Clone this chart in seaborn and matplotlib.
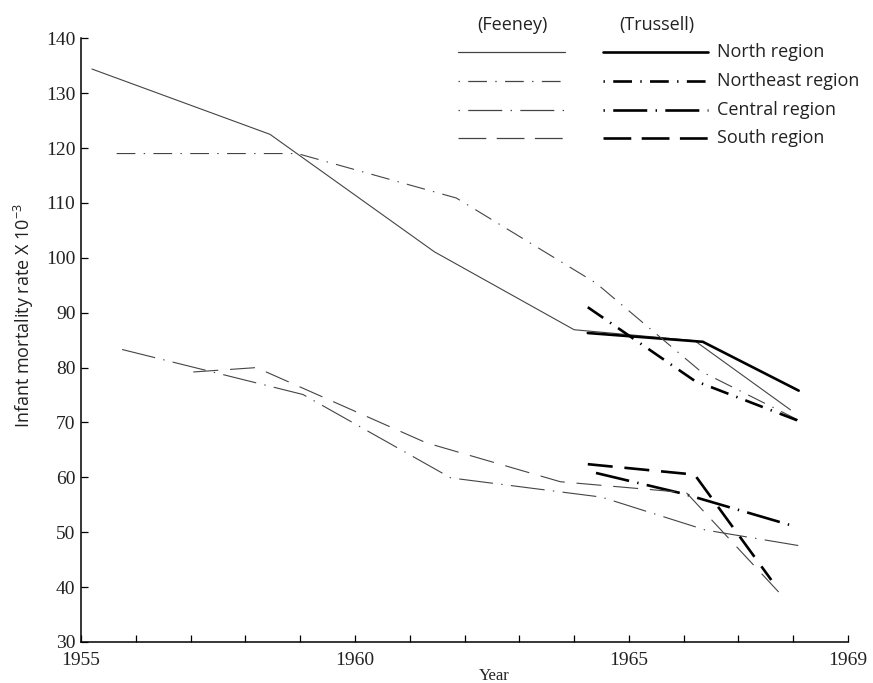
import matplotlib
matplotlib.use("Agg")
import matplotlib.pyplot as plt
from matplotlib.lines import Line2D
import seaborn as sns

# --- data (year, infant mortality rate x 10^-3) ---
# Feeney estimates (thin lines)
north_feeney_year = [1955.2, 1958.45, 1961.45, 1964.0, 1966.2, 1967.95]
north_feeney = [134.4, 122.5, 101.1, 86.9, 84.9, 72.3]
northeast_feeney_year = [1955.65, 1958.95, 1961.85, 1964.4, 1966.3, 1968.2]
northeast_feeney = [119.0, 119.0, 110.9, 95.4, 79.4, 69.9]
central_feeney_year = [1955.75, 1959.05, 1961.75, 1964.5, 1966.4, 1968.2]
central_feeney = [83.3, 75.1, 59.9, 56.4, 50.4, 47.4]
south_feeney_year = [1957.05, 1958.2, 1961.3, 1963.75, 1966.05, 1967.8]
south_feeney = [79.2, 80.0, 66.3, 59.2, 57.2, 38.4]

# Trussell estimates (thick lines)
north_trussell_year = [1964.25, 1966.35, 1968.1]
north_trussell = [86.3, 84.7, 75.8]
northeast_trussell_year = [1964.25, 1966.2, 1968.2]
northeast_trussell = [91.0, 77.6, 69.9]
central_trussell_year = [1964.4, 1966.0, 1968.05]
central_trussell = [60.8, 57.0, 51.0]
south_trussell_year = [1964.25, 1966.2, 1967.6]
south_trussell = [62.4, 60.5, 41.3]

regions = ["North region", "Northeast region", "Central region", "South region"]
year_ticks = list(range(1955, 1970))
year_labels = ["1955", "1960", "1965", "1969"]
rate_ticks = list(range(30, 150, 10))

# dash patterns (points), one per region
dash_styles = {
    "North region": "-",
    "Northeast region": (0, (13.5, 6.0, 1.0, 6.0)),
    "Central region": (0, (24.5, 6.0, 1.0, 6.0)),
    "South region": (0, (18.0, 8.5)),
}
# legend starts with the dot for the dot-dash patterns
legend_styles = {
    "North region": "-",
    "Northeast region": (19.5, (13.5, 6.0, 1.0, 6.0)),
    "Central region": (30.5, (24.5, 6.0, 1.0, 6.0)),
    "South region": (0, (20.0, 7.5)),
}

feeney = {
    "North region": (north_feeney_year, north_feeney),
    "Northeast region": (northeast_feeney_year, northeast_feeney),
    "Central region": (central_feeney_year, central_feeney),
    "South region": (south_feeney_year, south_feeney),
}
trussell = {
    "North region": (north_trussell_year, north_trussell),
    "Northeast region": (northeast_trussell_year, northeast_trussell),
    "Central region": (central_trussell_year, central_trussell),
    "South region": (south_trussell_year, south_trussell),
}

sns.set_style("ticks")
plt.rcParams["lines.scale_dashes"] = False
plt.rcParams["mathtext.default"] = "regular"

W, H = 873, 683
fig = plt.figure(figsize=(W / 100, H / 100), dpi=100)
ax = fig.add_axes([81 / W, 1 - 642 / H, (848 - 81) / W, (642 - 38.3) / H])

thin_color = "#444444"
for region in regions:
    x, y = feeney[region]
    sns.lineplot(x=x, y=y, ax=ax, color=thin_color, linewidth=0.8,
                 linestyle=dash_styles[region], errorbar=None)
    x, y = trussell[region]
    sns.lineplot(x=x, y=y, ax=ax, color="black", linewidth=1.9,
                 linestyle=dash_styles[region], errorbar=None)

ax.set_xlim(1955, 1969)
ax.set_ylim(30, 140)
ax.set_xticks(year_ticks)
ax.set_xticklabels([str(t) if str(t) in year_labels else "" for t in year_ticks])
ax.set_yticks(rate_ticks)
ax.set_yticklabels([str(t) for t in rate_ticks])
sns.despine(ax=ax)
for side in ["left", "bottom"]:
    ax.spines[side].set_color("black")
    ax.spines[side].set_linewidth(1.1)

ax.tick_params(axis="both", direction="in", length=5, width=0.9, color="black")
ax.tick_params(axis="x", pad=7)
ax.tick_params(axis="y", pad=4)
for lab in ax.get_xticklabels() + ax.get_yticklabels():
    lab.set_family("Liberation Serif")
    lab.set_fontsize(14)
    lab.set_color("#222222")

ax.set_xlabel("Year", family="Liberation Serif", fontsize=12, color="#222222")
ax.xaxis.set_label_coords((494 - 81) / (848 - 81), -0.043)
ax.set_ylabel(r"Infant mortality rate X 10$^{-3}$", family="Open Sans", fontsize=13,
              color="#222222")
ax.yaxis.set_label_coords(-(81 - 36) / (848 - 81), (642 - 316) / (642 - 38.3))

# hand-drawn style legend at top right
def fx(px):
    return px / W

def fy(py):
    return 1 - py / H

fig.text(fx(512), fy(25), "(Feeney)", family="Open Sans", fontsize=13, ha="center",
         va="center", color="#222222")
fig.text(fx(657), fy(25), "(Trussell)", family="Open Sans", fontsize=13, ha="center",
         va="center", color="#222222")
rows_y = [52, 81, 110, 138]
for region, ry in zip(regions, rows_y):
    fig.add_artist(Line2D([fx(458), fx(565)], [fy(ry), fy(ry)], color=thin_color,
                          linewidth=0.9, linestyle=legend_styles[region]))
    fig.add_artist(Line2D([fx(603), fx(708)], [fy(ry), fy(ry)], color="black",
                          linewidth=1.9, linestyle=legend_styles[region]))
    fig.text(fx(717), fy(ry), region, family="Open Sans", fontsize=13, ha="left",
             va="center", color="#222222")

fig.savefig("out.png", dpi=100)
